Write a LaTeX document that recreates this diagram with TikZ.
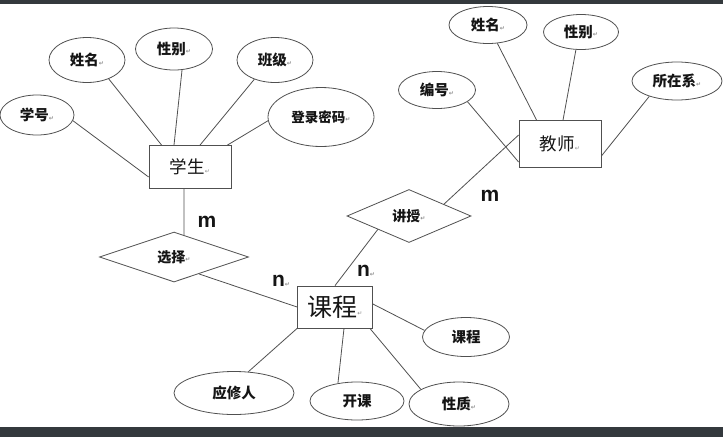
\documentclass[tikz,border=0pt]{standalone}
\usepackage{fontspec}
\usetikzlibrary{shapes.geometric,calc}
\newfontfamily\cjk{Noto Sans CJK SC}
\newfontfamily\lab{Liberation Sans}
\newfontfamily\dv{DejaVu Sans}
\definecolor{band}{HTML}{34393D}
\definecolor{linec}{HTML}{505050}
\definecolor{txt}{HTML}{151515}
\newcommand{\rt}{{\dv\fontsize{6}{6}\selectfont\color{black!45}\raisebox{0.5pt}{↵}}}
\tikzset{
  attr/.style={ellipse, draw=linec, line width=0.8pt, inner sep=0pt, text=txt,
    font=\cjk\bfseries\fontsize{14.5}{15}\selectfont},
  ent/.style={rectangle, draw=linec, line width=0.8pt, inner sep=0pt, text=txt,
    font=\cjk\fontsize{17.5}{18}\selectfont},
  rel/.style={diamond, draw=linec, line width=0.8pt, inner sep=0pt, text=txt,
    font=\cjk\bfseries\fontsize{14}{15}\selectfont},
  card/.style={text=txt, inner sep=0pt, font=\lab\bfseries\fontsize{21}{22}\selectfont},
  conn/.style={draw=linec, line width=0.8pt}
}
\begin{document}
\begin{tikzpicture}[x=1pt,y=-1pt]
\fill[white] (0,0) rectangle (723,437);
\useasboundingbox (0,0) rectangle (723,437);
\fill[band] (0,0) rectangle (723,4);
\fill[band] (0,427) rectangle (723,437);

% student side
\node[attr, minimum width=74pt, minimum height=40pt] (sid) at (37,115) {学号\rt};
\node[attr, minimum width=76pt, minimum height=45pt] (sname) at (87,60) {姓名\rt};
\node[attr, minimum width=77pt, minimum height=42pt] (ssex) at (174,49) {性别\rt};
\node[attr, minimum width=76pt, minimum height=45pt] (sclass) at (275,60) {班级\rt};
\node[attr, minimum width=106pt, minimum height=59pt, font=\cjk\bfseries\fontsize{13.5}{14}\selectfont] (spwd) at (321,117) {登录密码\rt};
\node[ent, minimum width=82pt, minimum height=43pt] (stu) at (190,167) {学生\rt};

\node[rel, minimum width=149pt, minimum height=50pt, aspect=2.98] (sel) at (174,257) {选择\rt};

% course
\node[ent, minimum width=75pt, minimum height=42pt, font=\cjk\fontsize{25}{26}\selectfont] (course) at (335,307) {课程\rt};
\node[attr, minimum width=120pt, minimum height=43pt] (cneed) at (234,393) {应修人};
\node[attr, minimum width=94pt, minimum height=38pt] (copen) at (357,401) {开课};
\node[attr, minimum width=87pt, minimum height=39pt] (cname) at (466,337) {课程};
\node[attr, minimum width=100pt, minimum height=44pt] (ctype) at (459,404) {性质\rt};

% teacher side
\node[rel, minimum width=124pt, minimum height=53pt, aspect=2.34] (teach) at (409,216) {讲授\rt};
\node[ent, minimum width=82pt, minimum height=47pt] (tea) at (560,144) {教师\rt};
\node[attr, minimum width=78pt, minimum height=37pt] (tname) at (488,25) {姓名\rt};
\node[attr, minimum width=75pt, minimum height=35pt] (tsex) at (581,32) {性别\rt};
\node[attr, minimum width=77pt, minimum height=37pt] (tid) at (437,90) {编号\rt};
\node[attr, minimum width=90pt, minimum height=38pt] (tdept) at (677,81) {所在系\rt};

% cardinalities
\node[card] (m1) at (207,222) {m};
\node[card] (n1) at (281,281) {n\rt};
\node[card] (n2) at (366,271) {n\rt};
\node[card] (m2) at (490,196) {m};

% connectors: student
\draw[conn] (sid.-9) -- ([yshift=-10pt]stu.west);
\draw[conn] (sname.-41) -- ([xshift=13pt]stu.north west);
\draw[conn] (ssex.-69) -- ([xshift=-16pt]stu.north);
\draw[conn] (sclass.-137) -- ([xshift=10pt]stu.north);
\draw[conn] (spwd.-176) -- ([xshift=-4pt]stu.north east);
\draw[conn] ([xshift=-6pt]stu.south) -- ($(sel.north)!0.134!(sel.east)$);
\draw[conn] ($(sel.south)!0.333!(sel.east)$) -- (course.west);

% connectors: teacher
\draw[conn] ($(teach.south)!0.5!(teach.west)$) -- (course.north);
\draw[conn] ([yshift=9pt]tea.west) -- ($(teach.north)!0.56!(teach.east)$);
\draw[conn] (tname.-63) -- ([xshift=18pt]tea.north west);
\draw[conn] (tsex.-106) -- ([xshift=3pt]tea.north);
\draw[conn] (tid.-21) -- ([yshift=-18pt]tea.west);
\draw[conn] (tdept.-151) -- ([yshift=-12pt]tea.east);

% connectors: course
\draw[conn] (course.south west) -- (cneed.56);
\draw[conn] ([xshift=9pt]course.south) -- (copen.137);
\draw[conn] ([yshift=3pt]course.east) -- (cname.171);
\draw[conn] ([xshift=-3pt]course.south east) -- (ctype.159);
\end{tikzpicture}
\end{document}
